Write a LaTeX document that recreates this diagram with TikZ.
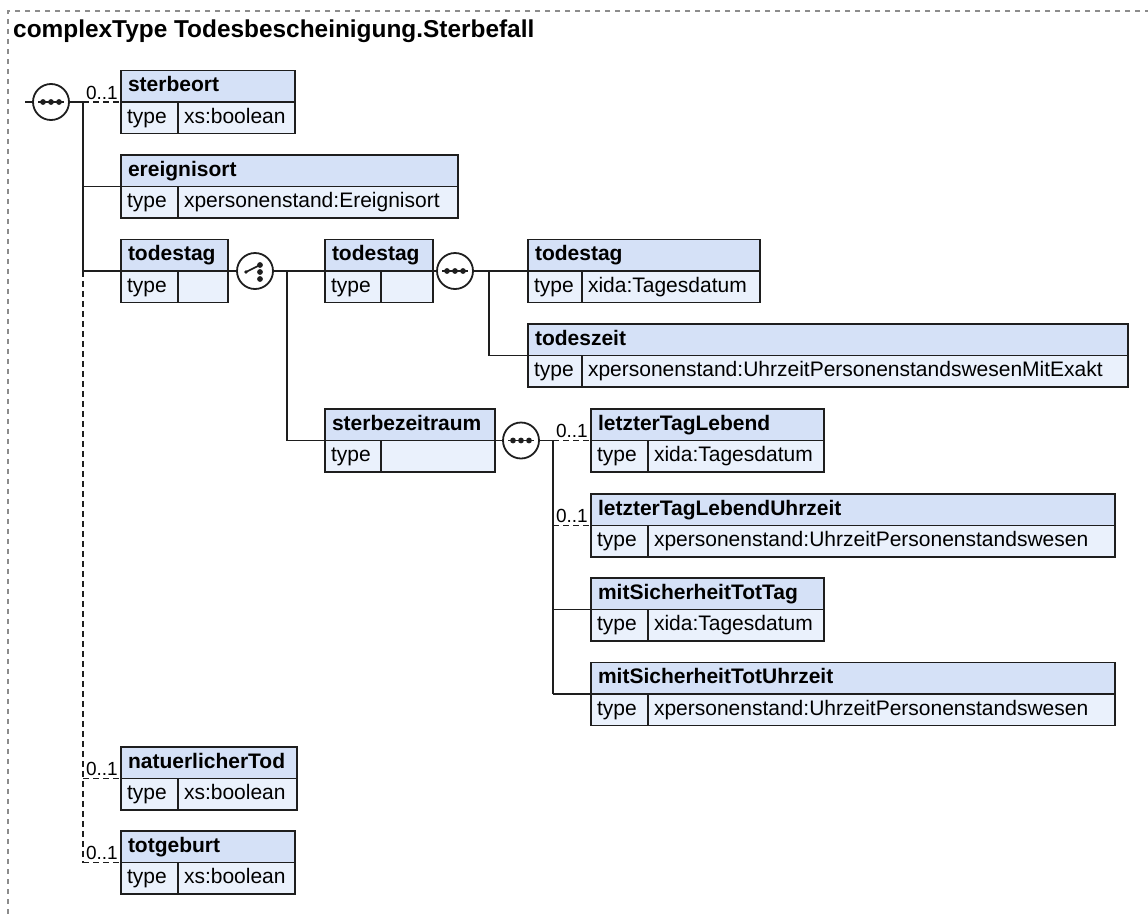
\documentclass[tikz,border=0pt]{standalone}
\usepackage{fontspec}
\setmainfont{Liberation Sans}
\definecolor{bdr}{RGB}{30,30,30}
\definecolor{hdrfill}{RGB}{213,225,247}
\definecolor{cellfill}{RGB}{234,241,252}
\definecolor{framegray}{RGB}{140,140,140}
\newcommand\ebox[7]{% name, x, ytop, width, type-cell width, header, value
  \pgfmathsetmacro\hw{#4-14}%
  \pgfmathsetmacro\tw{#5-12}%
  \pgfmathsetmacro\vw{#4-#5-12}%
  \node[hdr, text width=\hw pt, anchor=north west] (#1) at (#2,#3) {\mbox{#6}};
  \node[cell, text width=\tw pt, anchor=north west] (#1-t) at (#1.south west) {\mbox{type}};
  \node[cell, text width=\vw pt, anchor=north west] (#1-v) at (#1-t.north east) {\mbox{#7}};
}
\newcommand\seqsym[1]{%
  \draw[line width=1.6pt, bdr] ([xshift=-13pt]#1.center) -- ([xshift=13pt]#1.center);
  \fill[bdr] ([xshift=-8pt]#1.center) circle (2.9pt);
  \fill[bdr] (#1.center) circle (2.9pt);
  \fill[bdr] ([xshift=8pt]#1.center) circle (2.9pt);
}
\newcommand\choicesym[1]{%
  \draw[line width=1.6pt, bdr] ([shift={(-9,1)}]#1.center) -- ([shift={(5,-6)}]#1.center);
  \fill[bdr] ([shift={(-9,1)}]#1.center) circle (1.8pt);
  \fill[bdr] ([shift={(5,-6)}]#1.center) circle (2.9pt);
  \fill[bdr] ([shift={(5,1)}]#1.center) circle (2.9pt);
  \fill[bdr] ([shift={(5,8)}]#1.center) circle (2.9pt);
}
\begin{document}
\begin{tikzpicture}[x=1pt,y=-1pt,
  hdr/.style={draw=bdr, fill=hdrfill, line width=1.8pt, outer sep=0pt, inner xsep=7pt, inner ysep=0pt,
    minimum height=31.5pt, text height=16pt, text depth=5pt, font=\fontsize{21}{24}\selectfont\bfseries, align=left},
  cell/.style={draw=bdr, fill=cellfill, line width=1.8pt, outer sep=0pt, inner xsep=6pt, inner ysep=0pt,
    minimum height=31.5pt, text height=16pt, text depth=5pt, font=\fontsize{21}{24}\selectfont, align=left},
  conn/.style={line width=1.8pt, draw=bdr},
  opt/.style={conn, dash pattern=on 6pt off 4pt},
  occ/.style={font=\fontsize{19}{22}\selectfont, inner sep=0pt, anchor=base east},
  comp/.style={circle, draw=bdr, fill=white, line width=1.8pt, minimum size=36pt, inner sep=0pt, outer sep=0pt},
  framed/.style={draw=framegray, line width=1.5pt, dash pattern=on 5pt off 5pt},
]
\useasboundingbox (0,0) rectangle (1148,913);
\clip (0,0) rectangle (1148,913);

% frame and title
\coordinate (fa) at (1170,11);
\coordinate (fb) at (8,11);
\coordinate (fc) at (8,935);
\draw[framed] (fa) -- (fb) -- (fc);
\node[anchor=base west, inner sep=0pt, font=\fontsize{24.4}{28}\selectfont\bfseries] (title) at (13,37)
  {complexType Todesbescheinigung.Sterbefall};

% element boxes
\ebox{sterbeort}{121}{70.5}{174}{57}{sterbeort}{xs:boolean}
\ebox{ereignisort}{121}{155}{337}{57}{ereignisort}{xpersonenstand:Ereignisort}
\ebox{todestagA}{121}{239.5}{107}{57}{todestag}{}
\ebox{todestagB}{325}{239.5}{108}{56}{todestag}{}
\ebox{todestagC}{528}{239.5}{232}{54}{todestag}{xida:Tagesdatum}
\ebox{todeszeit}{528}{324}{600}{54}{todeszeit}{xpersonenstand:UhrzeitPersonenstandswesenMitExakt}
\ebox{sterbezeitraum}{325}{409}{170}{56}{sterbezeitraum}{}
\ebox{ltl}{591}{409}{233}{57}{letzterTagLebend}{xida:Tagesdatum}
\ebox{ltlu}{591}{494}{524}{57}{letzterTagLebendUhrzeit}{xpersonenstand:UhrzeitPersonenstandswesen}
\ebox{mstt}{591}{578}{233}{57}{mitSicherheitTotTag}{xida:Tagesdatum}
\ebox{mstu}{591}{662.5}{524}{57}{mitSicherheitTotUhrzeit}{xpersonenstand:UhrzeitPersonenstandswesen}
\ebox{nattod}{121}{747}{176}{57}{natuerlicherTod}{xs:boolean}
\ebox{totgeb}{121}{831}{174}{57}{totgeburt}{xs:boolean}

% compositor symbols
\node[comp] (seq1) at (51,102) {};
\node[comp] (choice1) at (255,271) {};
\node[comp] (seq2) at (455,271) {};
\node[comp] (seq3) at (521,440.5) {};

% junction coordinates
\coordinate (in0) at (25,102);
\coordinate (j1) at (83,102);
\coordinate (j2) at (j1 |- ereignisort.south west);
\coordinate (j3) at (j1 |- todestagA.south west);
\coordinate (j4) at (j1 |- nattod.south west);
\coordinate (j5) at (j1 |- totgeb.south west);
\coordinate (k1) at (287,271);
\coordinate (k2) at (k1 |- sterbezeitraum.south west);
\coordinate (m1) at (489,271);
\coordinate (m2) at (m1 |- todeszeit.south west);
\coordinate (n1) at (553,440.5);
\coordinate (n2) at (n1 |- ltlu.south west);
\coordinate (n3) at (n1 |- mstt.south west);
\coordinate (n4) at (n1 |- mstu.south west);

% connectors
\begin{scope}[on background layer/.try]
\end{scope}
\draw[conn] (in0) -- (seq1.west);
\draw[conn] (seq1.east) -- (j1);
\draw[opt] (j1) -- (sterbeort.south west);
\draw[conn] (j1) -- (j3);
\draw[conn] (j2) -- (ereignisort.south west);
\draw[conn] (j3) -- (todestagA.south west);
\draw[opt] (j3) -- (j5);
\draw[opt] (j4) -- (nattod.south west);
\draw[opt] (j5) -- (totgeb.south west);

\draw[conn] (todestagA.south east) -- (choice1.west);
\draw[conn] (choice1.east) -- (k1);
\draw[conn] (k1) -- (k2);
\draw[conn] (k1) -- (todestagB.south west);
\draw[conn] (k2) -- (sterbezeitraum.south west);

\draw[conn] (todestagB.south east) -- (seq2.west);
\draw[conn] (seq2.east) -- (m1);
\draw[conn] (m1) -- (m2);
\draw[conn] (m1) -- (todestagC.south west);
\draw[conn] (m2) -- (todeszeit.south west);

\draw[conn] (sterbezeitraum.south east) -- (seq3.west);
\draw[conn] (seq3.east) -- (n1);
\draw[conn] (n1) -- (n4);
\draw[opt] (n1) -- (ltl.south west);
\draw[opt] (n2) -- (ltlu.south west);
\draw[conn] (n3) -- (mstt.south west);
\draw[conn] (n4) -- (mstu.south west);

% symbols inside compositors
\seqsym{seq1}
\choicesym{choice1}
\seqsym{seq2}
\seqsym{seq3}

% occurrence labels
\node[occ] (o1) at ([shift={(-3,-3)}]sterbeort.south west) {0..1};
\node[occ] (o2) at ([shift={(-3,-3)}]ltl.south west) {0..1};
\node[occ] (o3) at ([shift={(-3,-3)}]ltlu.south west) {0..1};
\node[occ] (o4) at ([shift={(-3,-3)}]nattod.south west) {0..1};
\node[occ] (o5) at ([shift={(-3,-3)}]totgeb.south west) {0..1};
\end{tikzpicture}
\end{document}
